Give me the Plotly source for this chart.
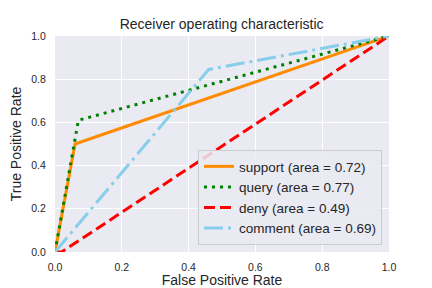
import plotly.graph_objects as go

# ROC curve data
support_fpr = [0.0, 0.06, 1.0]
support_tpr = [0.0, 0.5, 1.0]
query_fpr = [0.0, 0.07, 1.0]
query_tpr = [0.0, 0.61, 1.0]
deny_fpr = [0.0, 0.02, 1.0]
deny_tpr = [0.0, 0.0, 1.0]
comment_fpr = [0.0, 0.46, 1.0]
comment_tpr = [0.0, 0.845, 1.0]

names = ["support (area = 0.72)", "query (area = 0.77)", "deny (area = 0.49)", "comment (area = 0.69)"]
ticks = [0.0, 0.2, 0.4, 0.6, 0.8, 1.0]
tick_text = ["0.0", "0.2", "0.4", "0.6", "0.8", "1.0"]

fig = go.Figure()
series = [
    (support_fpr, support_tpr, names[0], "darkorange", "solid"),
    (query_fpr, query_tpr, names[1], "green", "3px,5px"),
    (deny_fpr, deny_tpr, names[2], "red", "11px,5px"),
    (comment_fpr, comment_tpr, names[3], "skyblue", "19px,5px,3px,5px"),
]
for x, y, n, c, d in series:
    fig.add_trace(go.Scatter(x=x, y=y, mode="lines", name=n,
                             line=dict(color=c, width=3, dash=d)))

font_fam = "Liberation Sans, Arial, sans-serif"
fig.update_layout(
    width=432, height=288,
    margin=dict(l=55, r=43, t=36, b=36),
    paper_bgcolor="white", plot_bgcolor="#EAEAF2",
    font=dict(family=font_fam, color="#262626", size=10),
    title=dict(text="Receiver operating characteristic", x=0.513, xanchor="center",
               y=0.915, yanchor="middle", font=dict(size=14, color="#262626")),
    xaxis=dict(range=[0, 1], tickvals=ticks, ticktext=tick_text, showgrid=True,
               gridcolor="white", gridwidth=1, zeroline=False, showline=False,
               ticks="outside", ticklen=5, tickcolor="rgba(0,0,0,0)",
               tickfont=dict(size=10.5, color="#262626"), automargin=False,
               title=dict(text="False Positive Rate", font=dict(size=14), standoff=3)),
    yaxis=dict(range=[0, 1], tickvals=ticks, ticktext=tick_text, showgrid=True,
               gridcolor="white", gridwidth=1, zeroline=False, showline=False,
               ticks="outside", ticklen=6, tickcolor="rgba(0,0,0,0)",
               tickfont=dict(size=10.5, color="#262626"), automargin=False,
               title=dict(text="True Positive Rate", font=dict(size=14), standoff=6)),
    legend=dict(x=0.979, y=0.032, xanchor="right", yanchor="bottom",
                bgcolor="rgba(234,234,242,0.85)", bordercolor="#CCCCCC", borderwidth=1,
                font=dict(size=13.5, color="#262626"), tracegroupgap=0, itemwidth=30),
    showlegend=True,
)

fig.write_html("out.html", config={"displayModeBar": False},
               post_script="document.body.style.margin='0';")
